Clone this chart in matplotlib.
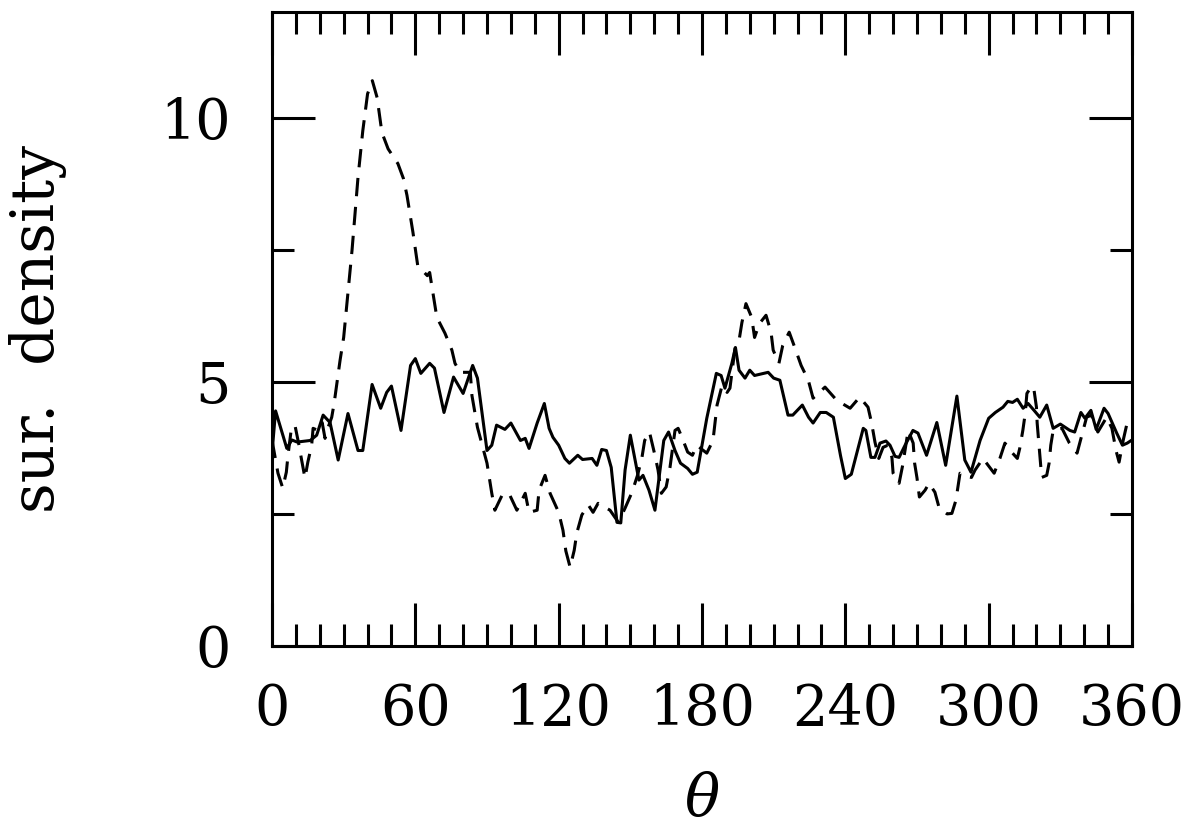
import matplotlib
matplotlib.use('Agg')
import matplotlib.pyplot as plt
from matplotlib.ticker import MultipleLocator

# solid curve
theta_solid = [0, 1.5, 6.2, 8.3, 10.5, 16, 18.7, 21.4, 24.3, 27.7, 31.8, 36, 38, 41.9, 45.5,
               48, 50, 54, 58, 60, 62.3, 66, 68, 72, 76, 80, 84, 86, 90, 92, 94, 97.5, 100,
               104, 106, 107.6, 111, 114, 116, 117.6, 120, 122.6, 124.5, 128, 130, 134, 136,
               138, 140, 142, 144.4, 146, 147.8, 150, 152, 153.6, 155.3, 157.8, 160.3, 164,
               166, 168.7, 171, 174, 176, 178, 182, 186, 188, 189.6, 192.5, 194, 195.5, 198,
               200, 202, 207.7, 210, 212.6, 216, 218, 222, 224.6, 226.5, 229.5, 232, 235, 238,
               240, 242.5, 247.5, 248.6, 250.7, 252.4, 254.5, 257, 258.7, 260.8, 262.5, 265,
               268.3, 270.4, 274, 278.3, 282, 286.7, 290, 292.6, 296.4, 300, 302.8, 306, 308,
               310, 312, 314.4, 316.5, 319, 321.4, 324.3, 327, 330, 334, 336, 338.6, 340.3,
               342.8, 345, 348.3, 350, 353.6, 356, 358, 360]
dens_solid = [3.65, 4.45, 3.74, 3.9, 3.86, 3.89, 3.99, 4.37, 4.23, 3.52, 4.40, 3.70, 3.70, 4.95,
              4.50, 4.80, 4.92, 4.08, 5.31, 5.44, 5.16, 5.35, 5.26, 4.42, 5.09, 4.78, 5.31, 5.07,
              3.70, 3.80, 4.18, 4.10, 4.22, 3.89, 3.93, 3.74, 4.22, 4.59, 4.12, 3.95, 3.80, 3.55,
              3.46, 3.61, 3.53, 3.55, 3.42, 3.72, 3.70, 3.38, 2.34, 2.33, 3.33, 3.99, 3.52, 3.14,
              3.23, 2.95, 2.57, 3.89, 4.05, 3.70, 3.46, 3.36, 3.25, 3.29, 4.31, 5.16, 5.12, 4.88,
              5.35, 5.65, 5.22, 5.07, 5.22, 5.12, 5.18, 5.07, 5.03, 4.37, 4.37, 4.56, 4.33, 4.22,
              4.42, 4.42, 4.33, 3.60, 3.17, 3.25, 4.12, 4.08, 3.57, 3.57, 3.84, 3.88, 3.80, 3.59,
              3.57, 3.80, 4.08, 4.03, 3.61, 4.23, 3.42, 4.73, 3.52, 3.29, 3.89, 4.31, 4.42, 4.52,
              4.63, 4.61, 4.67, 4.50, 4.59, 4.46, 4.33, 4.56, 4.12, 4.20, 4.08, 4.05, 4.42, 4.31,
              4.46, 4.10, 4.50, 4.40, 4.03, 3.80, 3.84, 3.90]

# dashed curve
theta_dashed = [0, 2.5, 4.5, 6, 6.7, 8, 9.6, 11.3, 12.4, 13.8, 15, 16.6, 17.2, 19.3, 21, 22.2,
                23.5, 25, 26, 28.5, 30, 33.5, 36, 38, 40, 42, 44, 46, 48.6, 52.7, 55, 56.5, 59,
                61, 65, 66, 69, 72.4, 75.3, 76.6, 78.7, 83, 83.7, 86, 90, 92, 93.3, 96.7, 99.6,
                102.5, 106, 107.6, 111, 111.8, 114.3, 116.4, 120, 121.8, 123, 124.8, 126.5, 127.6,
                129.7, 132.4, 134.4, 136.5, 141.5, 145, 147.8, 150.7, 153, 154.8, 156, 158, 160.3,
                161.6, 163, 165, 166.6, 168.7, 170, 171.6, 174, 176, 177.8, 182, 184.6, 186.3,
                188.4, 190.5, 191.7, 193.8, 195.5, 196.7, 198.4, 200.8, 202, 204, 206.8, 208.9,
                209.8, 212.2, 213.8, 216.5, 219, 221.5, 224.5, 226.5, 231.5, 236.4, 242, 246,
                249.5, 251, 252.4, 254, 255.8, 257.8, 259.5, 260, 262.5, 264, 266.3, 268.4, 269,
                270, 271, 273.4, 275, 277.5, 279.3, 282.6, 284.6, 286.3, 288, 289.7, 292.8, 294.3,
                297.6, 302.3, 304.7, 306.8, 310, 312, 313, 314.3, 315.3, 316, 318, 319, 320, 320.3,
                321, 322.2, 324.3, 325.3, 326, 327, 330.7, 333.8, 337, 339, 341, 343, 345.7, 349.4,
                351.6, 353.3, 354.6, 356.3, 358, 360]
dens_dashed = [3.9, 3.27, 2.99, 3.29, 3.61, 4.08, 4.18, 3.80, 3.52, 3.18, 3.48, 3.80, 4.12, 4.08,
               4.23, 3.93, 4.14, 4.33, 4.59, 5.41, 5.84, 7.49, 8.87, 9.75, 10.45, 10.70, 10.38,
               9.72, 9.41, 9.13, 8.85, 8.53, 7.83, 7.20, 7.01, 7.07, 6.22, 5.92, 5.60, 5.35, 5.18,
               5.18, 4.74, 4.14, 3.46, 2.89, 2.57, 2.89, 2.85, 2.57, 2.89, 2.53, 2.57, 2.95, 3.23,
               2.89, 2.53, 2.19, 1.8, 1.49, 1.81, 2.14, 2.48, 2.67, 2.53, 2.70, 2.57, 2.34, 2.61,
               2.91, 3.23, 3.55, 3.89, 4.05, 3.61, 3.33, 2.89, 3.01, 3.38, 4.08, 4.12, 3.95, 3.67,
               3.61, 3.80, 3.65, 3.89, 4.56, 4.93, 4.80, 4.88, 5.63, 5.78, 6.12, 6.48, 6.22, 5.84,
               6.10, 6.26, 5.94, 5.60, 5.35, 5.69, 5.94, 5.63, 5.31, 5.03, 4.69, 4.90, 4.65, 4.50,
               4.71, 4.52, 4.22, 3.86, 3.55, 3.76, 3.80, 3.57, 3.27, 3.08, 3.42, 4.08, 3.84, 3.46,
               3.18, 2.82, 2.95, 3.08, 2.91, 2.61, 2.50, 2.51, 2.76, 3.27, 3.23, 3.19, 3.33, 3.55,
               3.27, 3.55, 3.84, 3.65, 3.55, 3.74, 4.08, 4.40, 4.78, 4.92, 4.84, 4.52, 4.22, 3.84,
               3.19, 3.23, 3.46, 3.80, 4.08, 4.12, 3.84, 3.65, 3.99, 4.33, 4.37, 4.05, 4.33, 4.12,
               3.70, 3.48, 3.89, 4.23, 4.2]

plt.rcParams['font.family'] = 'DejaVu Serif'
plt.rcParams['mathtext.fontset'] = 'dejavuserif'

fig = plt.figure(figsize=(12, 8.34), dpi=100)
ax = fig.add_axes([272 / 1200, 1 - 646 / 834, 860 / 1200, 634 / 834])

ax.plot(theta_solid, dens_solid, color='black', lw=2.2)
ax.plot(theta_dashed, dens_dashed, color='black', lw=2.2, dashes=(6, 3.5))

ax.set_xlim(0, 360)
ax.set_ylim(0, 12)
ax.xaxis.set_major_locator(MultipleLocator(60))
ax.xaxis.set_minor_locator(MultipleLocator(10))
ax.yaxis.set_major_locator(MultipleLocator(5))
ax.yaxis.set_minor_locator(MultipleLocator(2.5))

for s in ax.spines.values():
    s.set_linewidth(2.2)
ax.tick_params(which='both', direction='in', top=True, right=True, width=2.2, labelsize=40)
ax.tick_params(which='major', length=31)
ax.tick_params(which='minor', length=16)
ax.tick_params(axis='x', which='major', pad=26)
ax.tick_params(axis='y', which='major', pad=30)

ax.set_xlabel(r'$\theta$', fontsize=42)
ax.xaxis.set_label_coords(0.5, -0.241)
ax.xaxis.label.set_va('center')
ax.set_ylabel('sur.  density', fontsize=43)
ax.yaxis.set_label_coords(-0.272, 0.5)
ax.yaxis.label.set_va('center')

fig.savefig('out.png', dpi=100)
